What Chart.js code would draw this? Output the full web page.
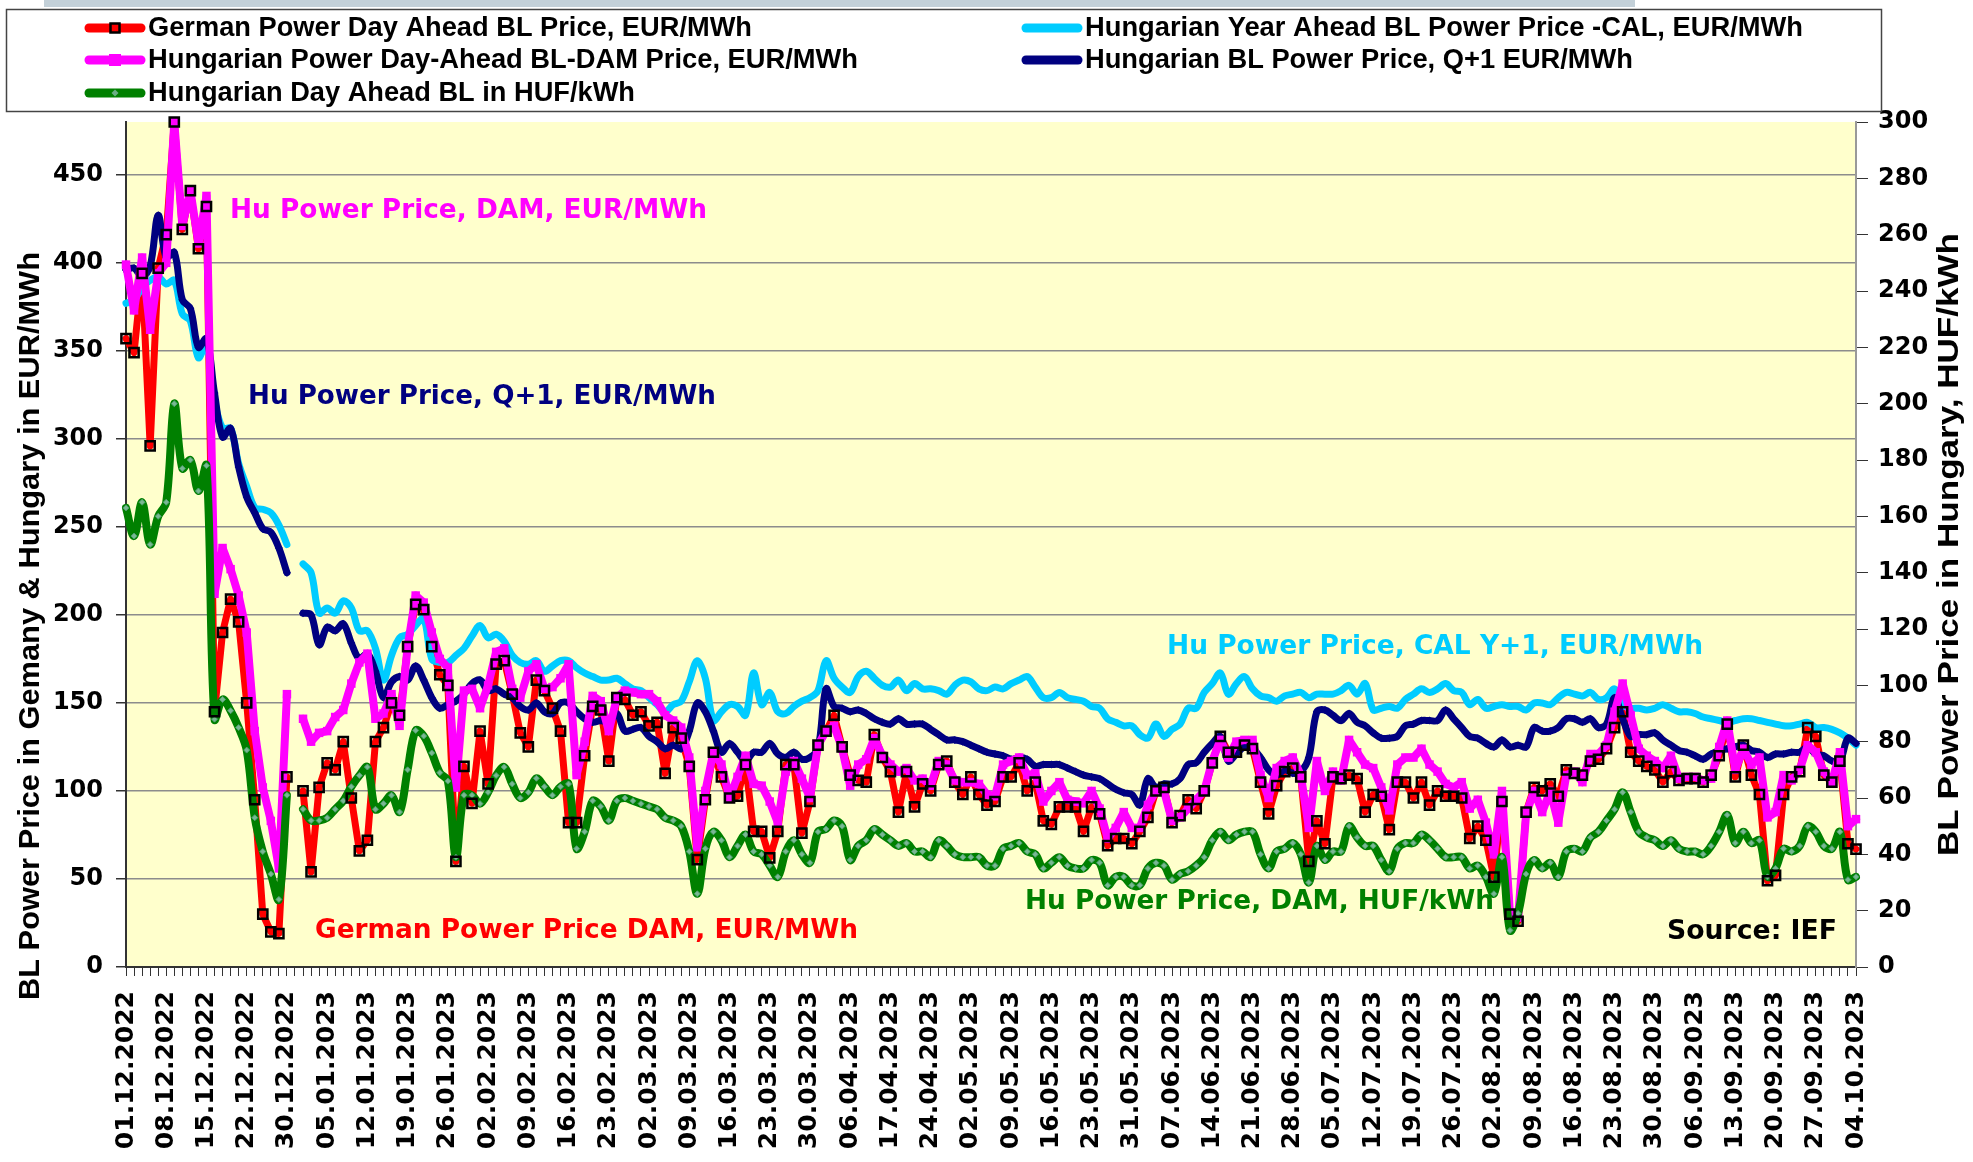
<!DOCTYPE html>
<html>
<head>
<meta charset="utf-8">
<title>BL Power Prices, Germany and Hungary</title>
<script src="https://cdn.jsdelivr.net/npm/chart.js@4"></script>
<style>
  body { margin: 0; background: #fff; }
  canvas { display: block; }
</style>
</head>
<body>
<canvas id="priceChart" width="1973" height="1162" style="width:1973px;height:1162px"></canvas>
<script>
// every 5th trading day gets a label on the x axis
var tickLabels = ["01.12.2022", "08.12.2022", "15.12.2022", "22.12.2022", "30.12.2022", "05.01.2023", "12.01.2023",
    "19.01.2023", "26.01.2023", "02.02.2023", "09.02.2023", "16.02.2023", "23.02.2023", "02.03.2023", "09.03.2023",
    "16.03.2023", "23.03.2023", "30.03.2023", "06.04.2023", "17.04.2023", "24.04.2023", "02.05.2023", "09.05.2023",
    "16.05.2023", "23.05.2023", "31.05.2023", "07.06.2023", "14.06.2023", "21.06.2023", "28.06.2023", "05.07.2023",
    "12.07.2023", "19.07.2023", "26.07.2023", "02.08.2023", "09.08.2023", "16.08.2023", "23.08.2023", "30.08.2023",
    "06.09.2023", "13.09.2023", "20.09.2023", "27.09.2023", "04.10.2023"];

// German Power Day Ahead BL Price, EUR/MWh
var germanDam = [
    357, 349, 394, 296, 397, 416, 480, 419, 441, 408,
    432, 145, 190, 209, 196, 150, 95, 30, 20, 19,
    108, null, 100, 54, 102, 116, 112, 128, 96, 66,
    72, 128, 136, 150, 143, 182, 206, 203, 182, 166,
    160, 60, 114, 93, 134, 104, 172, 174, 155, 133,
    125, 163, 157, 147, 134, 82, 82, 120, 148, 146,
    117, 153, 152, 143, 145, 137, 139, 110, 136, 130,
    114, 61, 95, 122, 108, 96, 97, 115, 77, 77,
    62, 77, 115, 115, 76, 94, 126, 134, 143, 125,
    109, 106, 105, 132, 119, 111, 88, 111, 91, 104,
    100, 115, 117, 105, 98, 108, 98, 92, 94, 108,
    108, 116, 100, 105, 83, 81, 91, 91, 91, 77,
    91, 87, 69, 73, 73, 70, 77, 85, 100, 102,
    82, 86, 95, 90, 100, 116, 131, 122, 122, 126,
    124, 105, 87, 103, 111, 113, 108, 60, 83, 70,
    108, 107, 109, 107, 88, 98, 97, 78, 105, 105,
    96, 105, 92, 100, 97, 97, 96, 73, 80, 72,
    51, 94, 30, 26, 88, 102, 100, 104, 97, 112,
    110, 109, 117, 118, 124, 136, 145, 122, 117, 114,
    112, 105, 111, 106, 107, 107, 105, 109, 120, 138,
    108, 126, 109, 98, 49, 52, 98, 108, 111, 136,
    131, 109, 105, 117, 70, 67
];

// Hungarian Power Day-Ahead BL-DAM Price, EUR/MWh
var huDam = [
    399, 373, 403, 362, 394, 400, 480, 421, 441, 411,
    438, 212, 238, 226, 211, 190, 134, 102, 83, 56,
    155, null, 141, 128, 133, 134, 142, 146, 161, 173,
    178, 141, 144, 155, 137, 182, 211, 207, 190, 175,
    170, 102, 157, 158, 147, 160, 179, 181, 158, 153,
    168, 172, 158, 159, 164, 172, 109, 128, 154, 151,
    134, 153, 157, 156, 155, 155, 151, 143, 140, 136,
    119, 68, 100, 122, 115, 96, 108, 120, 104, 103,
    94, 82, 111, 117, 107, 96, 126, 134, 137, 124,
    103, 115, 118, 130, 120, 115, 111, 113, 106, 107,
    103, 117, 115, 106, 105, 105, 104, 98, 97, 115,
    117, 119, 109, 110, 94, 100, 105, 95, 94, 93,
    100, 90, 73, 79, 88, 79, 79, 92, 100, 100,
    83, 85, 90, 95, 100, 117, 129, 119, 128, 129,
    129, 109, 96, 113, 117, 119, 109, 79, 117, 100,
    111, 106, 129, 122, 115, 113, 102, 89, 115, 119,
    119, 124, 115, 111, 104, 102, 105, 90, 95, 82,
    64, 100, 30, 28, 87, 100, 88, 100, 82, 109,
    111, 105, 121, 121, 126, 145, 161, 143, 124, 120,
    117, 113, 120, 107, 108, 108, 106, 107, 125, 140,
    112, 124, 115, 119, 85, 88, 109, 106, 112, 126,
    122, 111, 105, 122, 80, 84
];

// Hungarian Day Ahead BL in HUF/kWh (right axis)
var huDamHuf = [
    163, 153, 165, 150, 160, 165, 200, 177, 180, 169,
    178, 88, 95, 91, 85, 77, 53, 41, 33, 24,
    61, null, 56, 52, 52, 53, 56, 59, 64, 68,
    71, 56, 58, 61, 55, 70, 84, 82, 76, 69,
    66, 39, 61, 61, 58, 62, 68, 71, 65, 60,
    62, 67, 64, 61, 64, 65, 42, 48, 59, 57,
    52, 59, 60, 59, 58, 57, 56, 53, 52, 50,
    41, 26, 42, 48, 45, 39, 43, 47, 41, 40,
    36, 32, 41, 45, 40, 37, 48, 49, 52, 50,
    38, 43, 45, 49, 47, 45, 43, 44, 41, 41,
    39, 45, 43, 40, 39, 39, 39, 36, 36, 42,
    43, 44, 41, 40, 35, 37, 39, 36, 35, 35,
    38, 37, 29, 32, 32, 29, 29, 35, 37, 36,
    31, 33, 34, 36, 39, 45, 48, 45, 47, 48,
    48, 40, 35, 41, 42, 44, 40, 30, 43, 38,
    41, 41, 50, 46, 43, 43, 38, 34, 42, 44,
    44, 47, 45, 42, 39, 39, 39, 35, 36, 32,
    26, 39, 13, 19, 33, 38, 35, 37, 32, 41,
    42, 41, 46, 48, 52, 56, 62, 55, 48, 46,
    45, 43, 45, 42, 41, 41, 40, 43, 48, 54,
    44, 48, 44, 45, 32, 35, 42, 41, 43, 50,
    48, 43, 42, 48, 31, 32
];

// Hungarian Year Ahead BL Power Price -CAL, EUR/MWh
var huCal = [
    377, 379, 386, 390, 392, 388, 390, 371, 367, 346,
    354, 322, 306, 306, 286, 273, 261, 260, 258, 251,
    240, null, 229, 224, 201, 204, 201, 208, 204, 191,
    191, 181, 163, 177, 187, 189, 194, 198, 175, 173,
    173, 177, 181, 188, 194, 187, 189, 185, 177, 173,
    172, 174, 168, 171, 174, 174, 170, 167, 165, 163,
    163, 164, 161, 158, 157, 153, 149, 145, 149, 151,
    162, 174, 164, 140, 145, 149, 148, 143, 167, 149,
    156, 145, 144, 148, 151, 153, 157, 174, 164, 159,
    156, 165, 168, 164, 160, 159, 163, 157, 161, 158,
    158, 157, 155, 160, 163, 162, 158, 157, 159, 158,
    161, 163, 165, 159, 153, 153, 156, 153, 152, 151,
    148, 147, 141, 139, 137, 137, 132, 130, 138, 131,
    135, 138, 147, 147, 156, 161, 167, 155, 161, 165,
    158, 154, 153, 151, 154, 155, 156, 153, 155, 155,
    155, 157, 160, 155, 161, 146, 147, 148, 147, 152,
    155, 158, 156, 158, 161, 157, 156, 149, 152, 147,
    148, 149, 148, 148, 146, 150, 150, 149, 153, 156,
    155, 154, 156, 152, 153, 158, 149, 147, 147, 146,
    147, 149, 147, 145, 145, 144, 142, 141, 140, 139,
    140, 141, 141, 140, 139, 138, 137, 137, 138, 139,
    136, 136, 135, 133, 130, 126
];

// Hungarian BL Power Price, Q+1 EUR/MWh
var huQ1 = [
    396, 397, 392, 398, 427, 403, 406, 379, 374, 352,
    357, 326, 301, 306, 284, 267, 258, 249, 247, 238,
    224, null, 201, 200, 183, 193, 191, 195, 184, 175,
    178, 168, 153, 162, 165, 163, 171, 163, 153, 147,
    149, 151, 155, 161, 163, 157, 158, 155, 153, 148,
    146, 150, 145, 144, 150, 150, 145, 141, 139, 140,
    139, 144, 134, 135, 136, 131, 128, 124, 126, 124,
    134, 150, 145, 134, 122, 127, 122, 117, 122, 122,
    127, 121, 119, 122, 118, 119, 124, 158, 148, 147,
    145, 146, 144, 141, 139, 138, 141, 138, 138, 138,
    135, 132, 129, 129, 128, 126, 124, 122, 121, 120,
    118, 119, 118, 114, 115, 115, 115, 113, 111, 109,
    108, 107, 104, 101, 99, 98, 92, 107, 102, 104,
    104, 107, 115, 116, 122, 127, 131, 117, 121, 125,
    124, 119, 112, 109, 112, 110, 111, 119, 145, 146,
    143, 140, 144, 139, 137, 133, 130, 130, 131, 137,
    138, 140, 140, 140, 146, 141, 136, 131, 130, 127,
    125, 129, 125, 126, 125, 136, 134, 134, 136, 141,
    141, 139, 141, 136, 138, 153, 141, 131, 132, 132,
    133, 129, 126, 123, 122, 120, 118, 121, 123, 124,
    125, 126, 123, 122, 119, 121, 121, 122, 122, 125,
    121, 120, 117, 117, 130, 127
];

var categories = [];
for (var i = 0; i < germanDam.length; i++) {
    categories.push(i % 5 === 0 ? tickLabels[i / 5] : "");
}

var RED = "#ff0000", MAGENTA = "#ff00ff", GREEN = "#008000", CYAN = "#00ccff", NAVY = "#000080";

// draw a text squeezed/stretched to a given width
function fitText(ctx, text, x, y, width, font, color, angle) {
    ctx.save();
    ctx.font = font;
    ctx.fillStyle = color;
    ctx.textBaseline = "middle";
    ctx.textAlign = "left";
    ctx.translate(x, y);
    if (angle) ctx.rotate(angle);
    var w = ctx.measureText(text).width;
    ctx.scale(width / w, 1);
    ctx.fillText(text, 0, 0);
    ctx.restore();
}

function legendSymbol(ctx, x, y, color, marker) {
    ctx.save();
    ctx.strokeStyle = color;
    ctx.lineWidth = 9;
    ctx.lineCap = "round";
    ctx.beginPath();
    ctx.moveTo(x + 4, y);
    ctx.lineTo(x + 56, y);
    ctx.stroke();
    var cx = x + 30;
    if (marker === "hollow") {
        ctx.strokeStyle = "#000";
        ctx.lineWidth = 2.5;
        ctx.strokeRect(cx - 4.5, y - 4.5, 9, 9);
    } else if (marker === "square") {
        ctx.fillStyle = color;
        ctx.fillRect(cx - 6, y - 6, 12, 12);
    } else if (marker === "diamond") {
        ctx.fillStyle = "#6aae84";
        ctx.beginPath();
        ctx.moveTo(cx, y - 3.5); ctx.lineTo(cx + 3.5, y); ctx.lineTo(cx, y + 3.5); ctx.lineTo(cx - 3.5, y);
        ctx.closePath();
        ctx.fill();
    }
    ctx.restore();
}

var decorPlugin = {
    id: "decor",
    beforeDraw: function(chart) {
        var ctx = chart.ctx, a = chart.chartArea;
        ctx.save();
        ctx.fillStyle = "#ffffff";
        ctx.fillRect(0, 0, chart.width, chart.height);
        ctx.fillStyle = "#ffffcc";
        ctx.fillRect(a.left, a.top, a.right - a.left, a.bottom - a.top);
        ctx.restore();
    },
    afterDraw: function(chart) {
        var ctx = chart.ctx;
        ctx.save();
        // slide header strip and legend frame
        ctx.fillStyle = "#c3d0d8";
        ctx.fillRect(44, 0, 1591, 7);
        ctx.fillStyle = "#ffffff";
        ctx.fillRect(6, 9, 1876, 103);
        ctx.strokeStyle = "#444";
        ctx.lineWidth = 1.5;
        ctx.strokeRect(6.5, 9.5, 1875, 102);
        ctx.restore();

        var legendFont = "bold 27px 'Liberation Sans', Arial, sans-serif";
        var items = [
            { text: "German Power Day Ahead BL Price, EUR/MWh", color: RED, marker: "hollow", x: 85, y: 28, w: 604 },
            { text: "Hungarian Power Day-Ahead BL-DAM Price, EUR/MWh", color: MAGENTA, marker: "square", x: 85, y: 60, w: 710 },
            { text: "Hungarian Day Ahead BL in HUF/kWh", color: GREEN, marker: "diamond", x: 85, y: 93, w: 487 },
            { text: "Hungarian Year Ahead BL Power Price -CAL, EUR/MWh", color: CYAN, marker: null, x: 1022, y: 28, w: 718 },
            { text: "Hungarian BL Power Price, Q+1 EUR/MWh", color: NAVY, marker: null, x: 1022, y: 60, w: 548 }
        ];
        items.forEach(function(it) {
            legendSymbol(ctx, it.x, it.y, it.color, it.marker);
            fitText(ctx, it.text, it.x + 63, it.y + 1, it.w, legendFont, "#000");
        });

        // axis titles
        var titleFont = "bold 30px 'Liberation Sans', Arial, sans-serif";
        fitText(ctx, "BL Power Price in Gemany & Hungary in EUR/MWh", 31, 1000, 748, titleFont, "#000", -Math.PI / 2);
        fitText(ctx, "BL Power Price in Hungary, HUF/kWh", 1950, 856, 623, titleFont, "#000", -Math.PI / 2);

        // series notes inside the plot
        var noteFont = "bold 26px 'DejaVu Sans', Verdana, sans-serif";
        fitText(ctx, "Hu Power Price, DAM, EUR/MWh", 230, 211, 477, noteFont, MAGENTA);
        fitText(ctx, "Hu Power Price, Q+1, EUR/MWh", 248, 397, 468, noteFont, NAVY);
        fitText(ctx, "German Power Price DAM, EUR/MWh", 315, 931, 543, noteFont, RED);
        fitText(ctx, "Hu Power Price, CAL Y+1, EUR/MWh", 1167, 647, 536, noteFont, CYAN);
        fitText(ctx, "Hu Power Price, DAM, HUF/kWh", 1025, 902, 469, noteFont, GREEN);
        fitText(ctx, "Source: IEF", 1667, 932, 170, noteFont, "#000");
    }
};

var tickFont = { family: "'DejaVu Sans', Verdana, sans-serif", weight: "bold", size: 24 };

var ctx = document.getElementById("priceChart").getContext("2d");
var priceChart = new Chart(ctx, {
    type: "line",
    data: {
        labels: categories,
        datasets: [{
            // black hollow markers of the German series sit above every line
            label: "German markers",
            data: germanDam,
            yAxisID: "y",
            showLine: false,
            pointStyle: "rect",
            pointRadius: 6.5,
            pointBorderWidth: 2.5,
            pointBorderColor: "#000",
            pointBackgroundColor: "rgba(0,0,0,0)",
            order: 0,
            clip: false
        }, {
            label: "Hungarian Day Ahead BL in HUF/kWh",
            data: huDamHuf,
            yAxisID: "y2",
            borderColor: GREEN,
            borderWidth: 8,
            tension: 0.35,
            pointStyle: "rectRot",
            pointRadius: 3,
            pointBorderWidth: 1,
            pointBorderColor: "#4f9f6f",
            pointBackgroundColor: "#79b892",
            order: 1,
            clip: false
        }, {
            label: "Hungarian Power Day-Ahead BL-DAM Price, EUR/MWh",
            data: huDam,
            yAxisID: "y",
            borderColor: MAGENTA,
            borderWidth: 8,
            tension: 0,
            pointStyle: "rect",
            pointRadius: 6,
            pointBorderWidth: 0,
            pointBackgroundColor: MAGENTA,
            order: 2,
            clip: false
        }, {
            label: "Hungarian BL Power Price, Q+1 EUR/MWh",
            data: huQ1,
            yAxisID: "y",
            borderColor: NAVY,
            borderWidth: 7,
            tension: 0.35,
            pointStyle: "rectRot",
            pointRadius: 4,
            pointBorderWidth: 0,
            pointBackgroundColor: NAVY,
            order: 3,
            clip: false
        }, {
            label: "Hungarian Year Ahead BL Power Price -CAL, EUR/MWh",
            data: huCal,
            yAxisID: "y",
            borderColor: CYAN,
            borderWidth: 7,
            tension: 0.35,
            pointRadius: 0,
            order: 4,
            clip: false
        }, {
            label: "German Power Day Ahead BL Price, EUR/MWh",
            data: germanDam,
            yAxisID: "y",
            borderColor: RED,
            borderWidth: 7,
            tension: 0,
            pointRadius: 0,
            order: 5,
            clip: false
        }]
    },
    options: {
        responsive: false,
        animation: false,
        devicePixelRatio: 1,
        events: [],
        layout: { padding: { top: 122, left: 0, right: 0, bottom: 0 } },
        elements: {
            line: { borderJoinStyle: "round", borderCapStyle: "round", fill: false }
        },
        plugins: {
            legend: { display: false },
            tooltip: { enabled: false }
        },
        scales: {
            x: {
                type: "category",
                offset: false,
                grid: { drawOnChartArea: false, tickLength: 9, color: "#333", lineWidth: 1 },
                border: { color: "#333", width: 2 },
                ticks: {
                    autoSkip: false,
                    maxRotation: 90,
                    minRotation: 90,
                    padding: 15,
                    color: "#000",
                    font: { family: tickFont.family, weight: "bold", size: 25 }
                },
                afterFit: function(scale) { scale.height = 195; }
            },
            y: {
                position: "left",
                min: 0,
                max: 480,
                ticks: { stepSize: 50, color: "#000", font: tickFont, padding: 13 },
                grid: { color: "#8c8c8c", lineWidth: 1.5, tickLength: 10, tickColor: "#333" },
                border: { color: "#333", width: 2 },
                afterBuildTicks: function(scale) {
                    scale.ticks = scale.ticks.filter(function(t) { return t.value % 50 === 0; });
                },
                afterFit: function(scale) { scale.width = 126; }
            },
            y2: {
                position: "right",
                min: 0,
                max: 300,
                ticks: { stepSize: 20, color: "#000", font: tickFont, padding: 10 },
                grid: { drawOnChartArea: false, tickLength: 12, color: "#333" },
                border: { color: "#999", width: 2 },
                afterFit: function(scale) { scale.width = 117; }
            }
        }
    },
    plugins: [decorPlugin]
});
</script>
</body>
</html>
